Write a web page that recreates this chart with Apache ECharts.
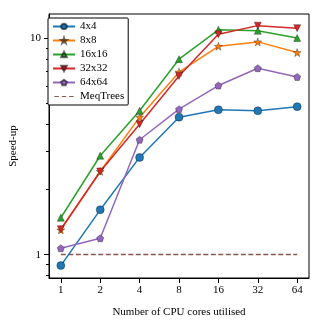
<!DOCTYPE html>
<html>
<head>
<meta charset="utf-8">
<script src="https://cdn.jsdelivr.net/npm/echarts@6/dist/echarts.min.js"></script>
<style>
  html, body { margin: 0; padding: 0; background: #fff; }
  #chart { width: 324px; height: 324px; }
</style>
</head>
<body>
<div id="chart"></div>
<script>
//--------------------------------
// Data
//--------------------------------
const cores = [1, 2, 4, 8, 16, 32, 64];
const s4x4   = [0.89, 1.61, 2.81, 4.31, 4.66, 4.61, 4.82];
const s8x8   = [1.30, 2.42, 4.31, 6.95, 9.15, 9.59, 8.56];
const s16x16 = [1.48, 2.86, 4.61, 7.98, 10.9, 10.8, 10.0];
const s32x32 = [1.31, 2.42, 4.00, 6.68, 10.4, 11.4, 11.1];
const s64x64 = [1.07, 1.19, 3.39, 4.69, 6.03, 7.25, 6.61];
const meqTrees = [1, 1, 1, 1, 1, 1, 1];

const yMajor = [1, 10];
const yMinor = [0.8, 0.9, 2, 3, 4, 5, 6, 7, 8, 9];

const starPath = 'path://M0,-10 L2.35,-3.24 9.51,-3.09 3.80,1.24 5.88,8.09 0,4 -5.88,8.09 -3.80,1.24 -9.51,-3.09 -2.35,-3.24 Z';
const pentPath = 'path://M0,-10 L9.51,-3.09 5.88,8.09 -5.88,8.09 -9.51,-3.09 Z';
// dashed line icon for the legend (moveTo points fix the box)
const dashIcon = 'path://M0,0 M22,8 M0,3.3 h5 v1.4 h-5 Z M8.5,3.3 h5 v1.4 h-5 Z M17,3.3 h5 v1.4 h-5 Z';

const font = 'Liberation Serif';

//--------------------------------
// Chart
//--------------------------------
const myChart = echarts.init(document.getElementById('chart'), null, { renderer: 'canvas' });

const pairs = (ys) => cores.map((c, i) => [c, ys[i]]);

const mkSeries = (name, ys, color, symbol, size, rotate) => ({
    name: name,
    type: 'line',
    data: pairs(ys),
    symbol: symbol,
    symbolSize: size,
    symbolRotate: rotate || 0,
    showAllSymbol: true,
    lineStyle: { color: color, width: 1.5 },
    itemStyle: { color: color, borderColor: 'rgba(0,0,0,0.55)', borderWidth: 0.6 },
    emphasis: { disabled: true },
    z: 3
});

let options = {
    animation: false,
    backgroundColor: '#fff',
    textStyle: { fontFamily: font },
    grid: {
        left: 44, right: 15, top: 14, bottom: 46,
        show: true, borderColor: '#000', borderWidth: 1
    },
    legend: {
        orient: 'vertical',
        left: 48, top: 18,
        padding: [3, 4, 3, 4],
        itemWidth: 22, itemHeight: 7,
        itemGap: 3,
        borderColor: '#000', borderWidth: 1, borderRadius: 1,
        backgroundColor: '#fff',
        textStyle: { fontFamily: font, fontSize: 11, color: '#000' },
        data: ['4x4', '8x8', '16x16', '32x32', '64x64', { name: 'MeqTrees', icon: dashIcon }]
    },
    xAxis: {
        type: 'log',
        logBase: 2,
        min: Math.pow(2, -0.3),
        max: Math.pow(2, 6.3),
        name: 'Number of CPU cores utilised',
        nameLocation: 'middle',
        nameGap: 29,
        nameTextStyle: { fontFamily: font, fontSize: 11, color: '#000' },
        axisLine: { lineStyle: { color: '#000', width: 1 } },
        axisTick: { inside: false, length: 5, lineStyle: { color: '#000' }, customValues: cores },
        axisLabel: { customValues: cores, fontFamily: font, fontSize: 11, color: '#000', margin: 7,
            formatter: (v) => String(Math.round(v)) },
        splitLine: { show: false },
        minorTick: { show: false }
    },
    yAxis: [
        {
            type: 'log',
            logBase: 10,
            min: 0.78,
            max: 12.9,
            name: 'Speed-up',
            nameLocation: 'middle',
            nameGap: 30,
            nameTextStyle: { fontFamily: font, fontSize: 11, color: '#000' },
            axisLine: { show: true, lineStyle: { color: '#000', width: 1 } },
            axisTick: { show: true, length: 5, lineStyle: { color: '#000' }, customValues: yMajor },
            axisLabel: { customValues: yMajor, fontFamily: font, fontSize: 11, color: '#000', margin: 8,
                formatter: (v) => String(Math.round(v)) },
            splitLine: { show: false }
        },
        {
            type: 'log',
            logBase: 10,
            min: 0.78,
            max: 12.9,
            position: 'left',
            axisLine: { show: false },
            axisTick: { show: true, length: 3, lineStyle: { color: '#000' }, customValues: yMinor },
            axisLabel: { show: false },
            splitLine: { show: false }
        }
    ],
    series: [
        mkSeries('4x4', s4x4, '#1f77b4', 'circle', 8),
        mkSeries('8x8', s8x8, '#ff7f0e', starPath, 8),
        mkSeries('16x16', s16x16, '#2ca02c', 'triangle', 7),
        mkSeries('32x32', s32x32, '#d62728', 'triangle', 7, 180),
        mkSeries('64x64', s64x64, '#9467bd', pentPath, 7),
        {
            name: 'MeqTrees',
            type: 'line',
            data: pairs(meqTrees),
            symbol: 'none',
            lineStyle: { color: '#8c564b', width: 1.5, type: [5, 2.5] },
            itemStyle: { color: '#8c564b' },
            emphasis: { disabled: true },
            z: 2
        }
    ]
};
myChart.setOption(options);
</script>
</body>
</html>
